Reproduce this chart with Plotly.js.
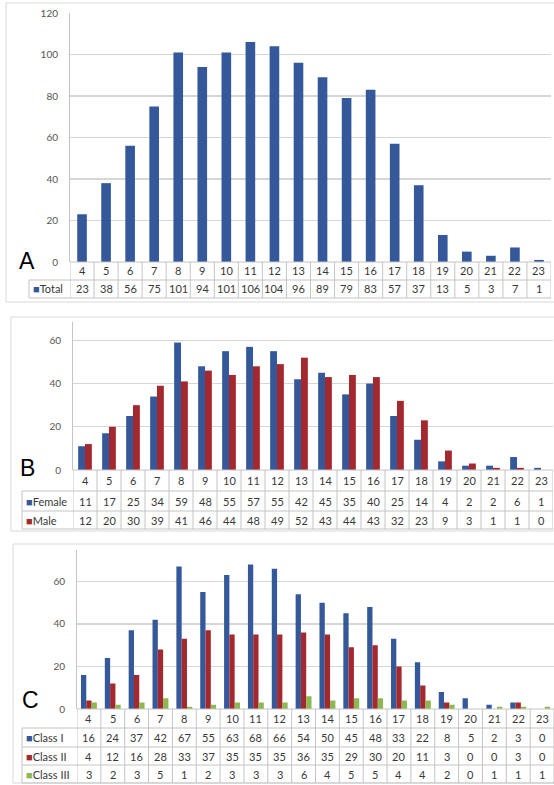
<!DOCTYPE html>
<html>
<head>
<meta charset="utf-8">
<script src="https://cdn.plot.ly/plotly-3.0.1.min.js"></script>
<style>html,body{margin:0;padding:0;background:#fff;}#chart{width:554px;height:785px;}</style>
</head>
<body>
<div id="chart"></div>
<script>
// ---------- DATA ----------
const categories = ['4','5','6','7','8','9','10','11','12','13','14','15','16','17','18','19','20','21','22','23'];
const total    = [23,38,56,75,101,94,101,106,104,96,89,79,83,57,37,13,5,3,7,1];
const female   = [11,17,25,34,59,48,55,57,55,42,45,35,40,25,14,4,2,2,6,1];
const male     = [12,20,30,39,41,46,44,48,49,52,43,44,43,32,23,9,3,1,1,0];
const classI   = [16,24,37,42,67,55,63,68,66,54,50,45,48,33,22,8,5,2,3,0];
const classII  = [4,12,16,28,33,37,35,35,35,36,35,29,30,20,11,3,0,0,3,0];
const classIII = [3,2,3,5,1,2,3,3,3,6,4,5,5,4,4,2,0,1,1,1];
const seriesNamesA = ['Total'];
const seriesNamesB = ['Female','Male'];
const seriesNamesC = ['Class I','Class II','Class III'];

// ---------- STYLE ----------
const W = 554, H = 785;
const BLUE = '#34589a', RED = '#a3292e', GREEN = '#8db750';
const GRID = '#d6d6d6', LINE = '#c4c4c4', TXT = '#383838', TICK = '#555555';
const FONT = 'Lato, "Open Sans", sans-serif';
const TFS = 11;
const px = p => p / W, py = p => 1 - p / H;

const panels = [
  {id:'', letter:'A', x0:70, x1:551, zero:262, top:13, ymax:120, dtick:20,
   rows:[262,280,298], labelLeft:29, box:[6,3,302], letterPos:[27,261],
   series:[{name:seriesNamesA[0], data:total, color:BLUE}], barW:0.4},
  {id:'2', letter:'B', x0:73, x1:553, zero:470, top:322, ymax:68.5, dtick:20,
   rows:[470,491,511,529], labelLeft:22, box:[11,317,531], letterPos:[28,468],
   series:[{name:seriesNamesB[0], data:female, color:BLUE},{name:seriesNamesB[1], data:male, color:RED}], barW:0.285},
  {id:'3', letter:'C', x0:77, x1:554, zero:709, top:549.6, ymax:75, dtick:20,
   rows:[709,728,747,765,783], labelLeft:22, box:[13,544,783], letterPos:[30,700],
   series:[{name:seriesNamesC[0], data:classI, color:BLUE},{name:seriesNamesC[1], data:classII, color:RED},{name:seriesNamesC[2], data:classIII, color:GREEN}], barW:0.222}
];

const traces = [], shapes = [], annotations = [];
const layout = {
  width: W, height: H, margin:{l:0,r:0,t:0,b:0},
  paper_bgcolor:'#fff', plot_bgcolor:'#fff',
  showlegend:false, barmode:'overlay',
  font:{family:FONT, size:10, color:TXT}
};

panels.forEach(p => {
  const xa = 'x' + p.id, ya = 'y' + p.id;
  const n = p.series.length;
  p.series.forEach((s, k) => {
    traces.push({
      type:'bar', x:categories, y:s.data, name:s.name,
      xaxis:xa, yaxis:ya, marker:{color:s.color, line:{width:0}},
      width:p.barW, offset:-p.barW*n/2 + k*p.barW, hoverinfo:'x+y+name'
    });
  });
  layout['xaxis' + p.id] = {
    domain:[px(p.x0), px(p.x1)], anchor:ya, type:'category',
    showticklabels:false, ticks:'', showgrid:false, zeroline:false,
    showline:false, range:[-0.5, categories.length - 0.5], fixedrange:true
  };
  layout['yaxis' + p.id] = {
    domain:[py(p.zero), py(p.top)], anchor:xa, range:[0, p.ymax],
    tick0:0, dtick:p.dtick, showgrid:true, gridcolor:GRID, gridwidth:1.2,
    zeroline:false, showline:true, linecolor:LINE, linewidth:1,
    ticks:'', ticklabelstandoff:9,
    tickfont:{family:FONT, size:10, color:TICK}, fixedrange:true
  };
  // panel box
  shapes.push({type:'rect', xref:'paper', yref:'paper',
    x0:px(p.box[0]), x1:px(W+10), y0:py(p.box[2]), y1:py(p.box[1]),
    line:{color:'#d9d9d9', width:1}, fillcolor:'rgba(0,0,0,0)', layer:'below'});
  // table horizontal lines
  p.rows.forEach((r, i) => {
    shapes.push({type:'line', xref:'paper', yref:'paper',
      x0:px(i === 0 ? p.x0 : p.labelLeft), x1:px(p.x1), y0:py(r), y1:py(r),
      line:{color:LINE, width:1}});
  });
  // table vertical lines
  for (let i = 0; i <= categories.length; i++) {
    shapes.push({type:'line', xref:xa, yref:'paper',
      x0:i - 0.5, x1:i - 0.5, y0:py(p.rows[0]), y1:py(p.rows[p.rows.length-1]),
      line:{color:LINE, width:1}});
  }
  shapes.push({type:'line', xref:'paper', yref:'paper',
    x0:px(p.labelLeft), x1:px(p.labelLeft), y0:py(p.rows[1]), y1:py(p.rows[p.rows.length-1]),
    line:{color:LINE, width:1}});
  // header row: categories (x given as category index)
  const hc = (p.rows[0] + p.rows[1]) / 2;
  categories.forEach((c, i) => {
    annotations.push({xref:xa, yref:'paper', x:i, y:py(hc), text:c, showarrow:false,
      xanchor:'center', yanchor:'middle', font:{family:FONT, size:TFS, color:TXT}});
  });
  // data rows
  p.series.forEach((s, k) => {
    const rc = (p.rows[k+1] + p.rows[k+2]) / 2;
    annotations.push({xref:'paper', yref:'paper', x:px(p.labelLeft + 2), y:py(rc),
      text:'<span style="color:' + s.color + ';font-size:11px">■</span>' + s.name,
      showarrow:false, xanchor:'left', yanchor:'middle',
      font:{family:FONT, size:TFS, color:TXT}});
    s.data.forEach((v, i) => {
      annotations.push({xref:xa, yref:'paper', x:i, y:py(rc), text:String(v),
        showarrow:false, xanchor:'center', yanchor:'middle',
        font:{family:FONT, size:TFS, color:TXT}});
    });
  });
  // panel letter
  annotations.push({xref:'paper', yref:'paper', x:px(p.letterPos[0]), y:py(p.letterPos[1]),
    text:p.letter, showarrow:false, xanchor:'center', yanchor:'middle',
    font:{family:'"Liberation Sans", Arial, sans-serif', size:23, color:'#000'}});
});

layout.shapes = shapes;
layout.annotations = annotations;
Plotly.newPlot('chart', traces, layout, {displayModeBar:false, staticPlot:true});
</script>
</body>
</html>
